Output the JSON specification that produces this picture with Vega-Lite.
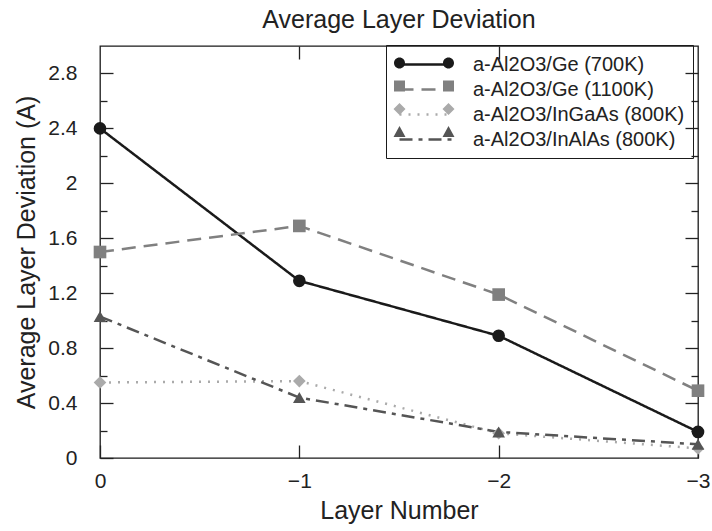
{
  "$schema": "https://vega.github.io/schema/vega-lite/v6.json",
  "width": 598,
  "height": 412,
  "autosize": {"type": "none"},
  "padding": {"left": 100, "top": 46, "right": 14, "bottom": 73},
  "background": "white",
  "config": {
    "font": "Liberation Sans",
    "view": {"stroke": "#1a1a1a", "strokeWidth": 1.3}
  },
  "title": {"text": "Average Layer Deviation", "fontSize": 25, "fontWeight": "normal", "color": "#222", "offset": 12, "anchor": "middle"},
  "data": {
    "values": [
      {"series": "a-Al2O3/Ge (700K)", "layer": 0, "value": 2.4},
      {"series": "a-Al2O3/Ge (700K)", "layer": -1, "value": 1.29},
      {"series": "a-Al2O3/Ge (700K)", "layer": -2, "value": 0.89},
      {"series": "a-Al2O3/Ge (700K)", "layer": -3, "value": 0.19},
      {"series": "a-Al2O3/Ge (1100K)", "layer": 0, "value": 1.5},
      {"series": "a-Al2O3/Ge (1100K)", "layer": -1, "value": 1.69},
      {"series": "a-Al2O3/Ge (1100K)", "layer": -2, "value": 1.19},
      {"series": "a-Al2O3/Ge (1100K)", "layer": -3, "value": 0.49},
      {"series": "a-Al2O3/InGaAs (800K)", "layer": 0, "value": 0.55},
      {"series": "a-Al2O3/InGaAs (800K)", "layer": -1, "value": 0.56},
      {"series": "a-Al2O3/InGaAs (800K)", "layer": -2, "value": 0.18},
      {"series": "a-Al2O3/InGaAs (800K)", "layer": -3, "value": 0.07},
      {"series": "a-Al2O3/InAlAs (800K)", "layer": 0, "value": 1.03},
      {"series": "a-Al2O3/InAlAs (800K)", "layer": -1, "value": 0.44},
      {"series": "a-Al2O3/InAlAs (800K)", "layer": -2, "value": 0.19},
      {"series": "a-Al2O3/InAlAs (800K)", "layer": -3, "value": 0.1}
    ]
  },
  "layer": [
    {
      "mark": {"type": "line", "strokeWidth": 2.5},
      "encoding": {
        "x": {
          "field": "layer", "type": "quantitative",
          "scale": {"domain": [0, -3], "nice": false, "zero": false},
          "axis": {
            "orient": "bottom", "values": [0, -1, -2, -3],
            "labelExpr": "datum.value == 0 ? '0' : '\u2212' + abs(datum.value)",
            "title": "Layer Number", "titleFontSize": 25, "titleFontWeight": "normal", "titleColor": "#222",
            "labelFontSize": 21, "labelColor": "#222", "labelFlush": false,
            "tickSize": -13, "tickColor": "#222", "tickWidth": 1.3,
            "domain": false, "grid": false, "labelPadding": 25, "titlePadding": 7
          }
        },
        "y": {
          "field": "value", "type": "quantitative",
          "scale": {"domain": [0, 3], "nice": false},
          "axis": {
            "orient": "left",
            "values": [0, 0.2, 0.4, 0.6, 0.8, 1, 1.2, 1.4, 1.6, 1.8, 2, 2.2, 2.4, 2.6, 2.8],
            "labelExpr": "abs(round(datum.value*5)) % 2 == 0 ? format(datum.value, '~g') : ''",
            "title": "Average Layer Deviation (A)", "titleFontSize": 25, "titleFontWeight": "normal", "titleColor": "#222",
            "labelFontSize": 21, "labelColor": "#222", "labelFlush": false,
            "tickSize": {"condition": {"test": "abs(round(datum.value*5)) % 2 == 0", "value": -13}, "value": -7},
            "tickColor": "#222", "tickWidth": 1.3,
            "domain": false, "grid": false, "labelPadding": 36, "titlePadding": 8
          }
        },
        "color": {
          "field": "series", "type": "nominal",
          "scale": {
            "domain": ["a-Al2O3/Ge (700K)", "a-Al2O3/Ge (1100K)", "a-Al2O3/InGaAs (800K)", "a-Al2O3/InAlAs (800K)"],
            "range": ["#1a1a1a", "#808080", "#aaaaaa", "#555555"]
          },
          "legend": {
            "title": null, "orient": "none", "legendX": 286, "legendY": -1,
            "padding": 8, "strokeColor": "#1a1a1a",
            "symbolType": "M-2.6,0H2.6", "symbolSize": 400, "symbolStrokeWidth": 2.5,
            "symbolOffset": 20, "labelOffset": 36, "labelFontSize": 20, "labelColor": "#222",
            "labelLimit": 400, "rowPadding": 3
          }
        },
        "strokeDash": {
          "field": "series", "type": "nominal",
          "scale": {
            "domain": ["a-Al2O3/Ge (700K)", "a-Al2O3/Ge (1100K)", "a-Al2O3/InGaAs (800K)", "a-Al2O3/InAlAs (800K)"],
            "range": [[1, 0], [14, 8], [2, 7], [13, 6, 4, 6]]
          },
          "legend": {
            "title": null, "orient": "none", "legendX": 286, "legendY": -1,
            "padding": 8, "strokeColor": "#1a1a1a",
            "symbolType": "M-2.6,0H2.6", "symbolSize": 400, "symbolStrokeWidth": 2.5,
            "symbolOffset": 20, "labelOffset": 36, "labelFontSize": 20, "labelColor": "#222",
            "labelLimit": 400, "rowPadding": 3
          }
        }
      }
    },
    {
      "mark": {"type": "point", "filled": true, "size": 160, "opacity": 1},
      "encoding": {
        "x": {
          "field": "layer", "type": "quantitative",
          "scale": {"domain": [0, -3], "nice": false, "zero": false},
          "axis": {"orient": "top", "values": [-1, -2], "labels": false, "title": null, "tickSize": -13, "tickColor": "#222", "tickWidth": 1.3, "domain": false, "grid": false}
        },
        "y": {
          "field": "value", "type": "quantitative",
          "scale": {"domain": [0, 3], "nice": false},
          "axis": {
            "orient": "right",
            "values": [0.2, 0.4, 0.6, 0.8, 1, 1.2, 1.4, 1.6, 1.8, 2, 2.2, 2.4, 2.6, 2.8],
            "labels": false, "title": null,
            "tickSize": {"condition": {"test": "abs(round(datum.value*5)) % 2 == 0", "value": -13}, "value": -7},
            "tickColor": "#222", "tickWidth": 1.3, "domain": false, "grid": false
          }
        },
        "color": {
          "field": "series", "type": "nominal",
          "scale": {
            "domain": ["a-Al2O3/Ge (700K)", "a-Al2O3/Ge (1100K)", "a-Al2O3/InGaAs (800K)", "a-Al2O3/InAlAs (800K)"],
            "range": ["#1a1a1a", "#808080", "#aaaaaa", "#555555"]
          },
          "legend": null
        },
        "shape": {
          "field": "series", "type": "nominal",
          "scale": {
            "domain": ["a-Al2O3/Ge (700K)", "a-Al2O3/Ge (1100K)", "a-Al2O3/InGaAs (800K)", "a-Al2O3/InAlAs (800K)"],
            "range": ["circle", "square", "diamond", "triangle-up"]
          },
          "legend": null
        }
      }
    },
    {
      "mark": {"type": "point", "filled": true, "size": 0, "opacity": 1},
      "encoding": {
        "x": {"field": "layer", "type": "quantitative", "scale": {"domain": [0, -3], "nice": false, "zero": false}, "axis": null},
        "y": {"field": "value", "type": "quantitative", "scale": {"domain": [0, 3], "nice": false}, "axis": null},
        "color": {
          "field": "series", "type": "nominal",
          "scale": {
            "domain": ["a-Al2O3/Ge (700K)", "a-Al2O3/Ge (1100K)", "a-Al2O3/InGaAs (800K)", "a-Al2O3/InAlAs (800K)"],
            "range": ["#1a1a1a", "#808080", "#aaaaaa", "#555555"]
          },
          "legend": {
            "title": null, "orient": "none", "legendX": 306, "legendY": -1, "padding": 8,
            "symbolSize": 400, "symbolOffset": 0, "symbolOpacity": 1, "symbolStrokeWidth": 0,
            "labelExpr": "' '", "labelFontSize": 20, "rowPadding": 3
          }
        },
        "shape": {
          "field": "series", "type": "nominal",
          "scale": {
            "domain": ["a-Al2O3/Ge (700K)", "a-Al2O3/Ge (1100K)", "a-Al2O3/InGaAs (800K)", "a-Al2O3/InAlAs (800K)"],
            "range": [
              "M-1.9,0A0.55,0.55,0,1,1,-3,0A0.55,0.55,0,1,1,-1.9,0ZM3,0A0.55,0.55,0,1,1,1.9,0A0.55,0.55,0,1,1,3,0Z",
              "M-3,-0.55H-1.9V0.55H-3ZM1.9,-0.55H3V0.55H1.9Z",
              "M-2.45,-0.6L-1.85,0L-2.45,0.6L-3.05,0ZM2.45,-0.6L3.05,0L2.45,0.6L1.85,0Z",
              "M-2.45,-0.6L-1.85,0.5H-3.05ZM2.45,-0.6L3.05,0.5H1.85Z"
            ]
          },
          "legend": {
            "title": null, "orient": "none", "legendX": 306, "legendY": -1, "padding": 8,
            "symbolSize": 400, "symbolOffset": 0, "symbolOpacity": 1, "symbolStrokeWidth": 0,
            "labelExpr": "' '", "labelFontSize": 20, "rowPadding": 3
          }
        }
      }
    }
  ],
  "resolve": {
    "axis": {"x": "independent", "y": "independent"},
    "scale": {"color": "independent", "shape": "independent", "strokeDash": "independent"}
  }
}
